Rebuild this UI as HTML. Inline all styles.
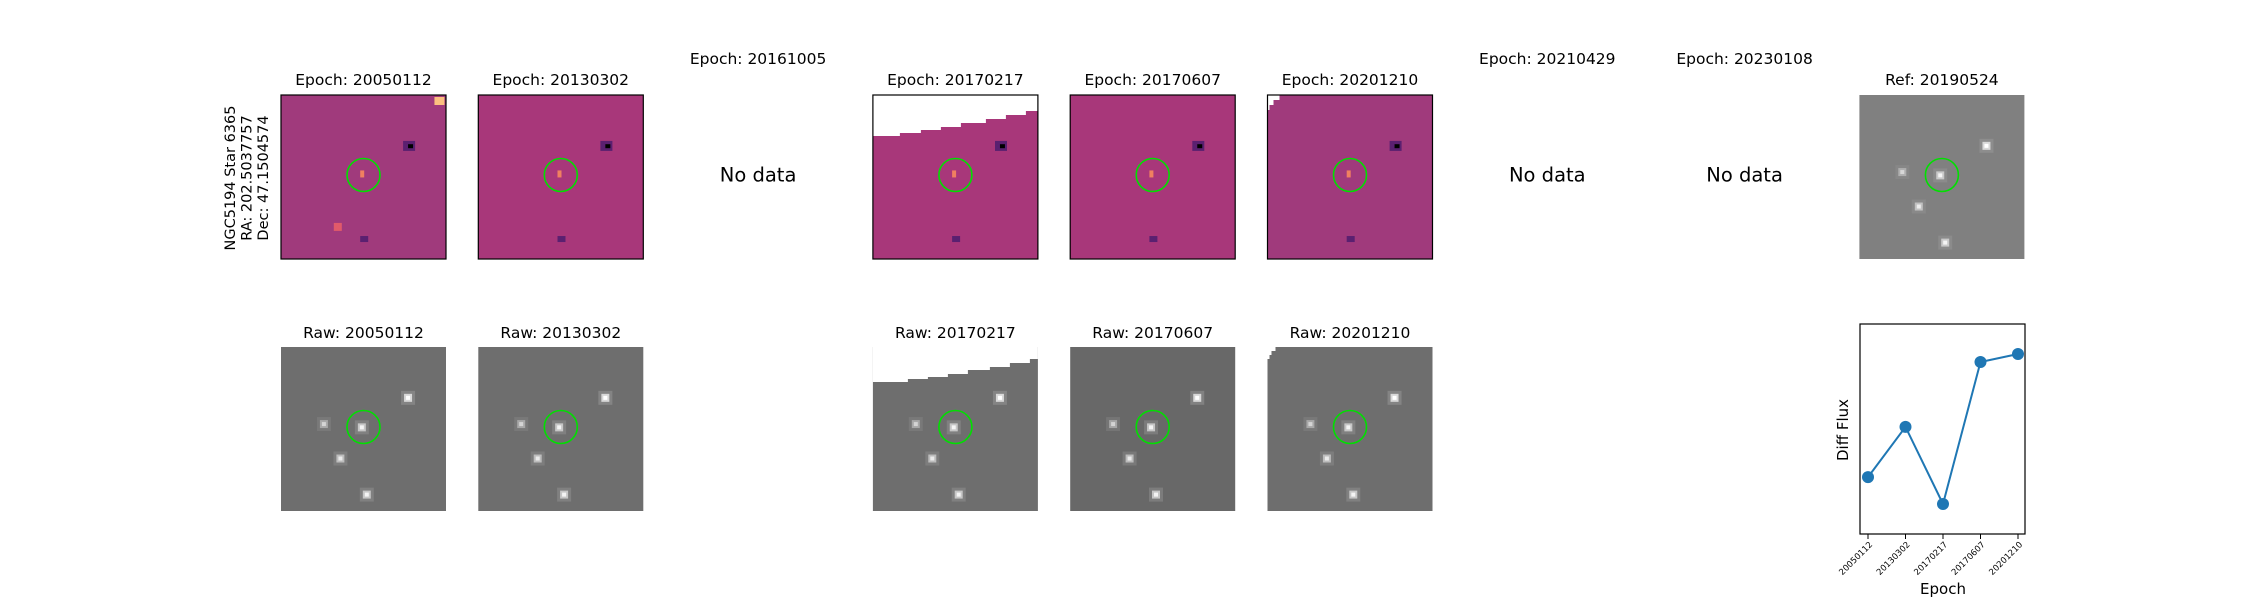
<!DOCTYPE html>
<html><head><meta charset="utf-8"><style>
html,body{margin:0;padding:0;background:#fff;}
svg{display:block;font-family:"DejaVu Sans","Liberation Sans",sans-serif;}
</style></head><body>
<svg id="fig" width="2250" height="600" viewBox="0 0 2250 600" xmlns="http://www.w3.org/2000/svg">
<text transform="translate(246,178) rotate(-90)" text-anchor="middle" font-size="14.5" fill="#000"><tspan x="0" dy="-11">NGC5194 Star 6365</tspan><tspan x="0" dy="16.5">RA: 202.5037757</tspan><tspan x="0" dy="16.5">Dec: 47.1504574</tspan></text>
</svg>
<script>
const epochs = ["20050112","20130302","20161005","20170217","20170607","20201210","20210429","20230108"];
const hasData = [true,true,false,true,true,true,false,false];
const chartEpochs = ["20050112","20130302","20170217","20170607","20201210"];
const diffFlux = [2.71,5.10,1.43,8.19,8.57];
const yDomain = [0,10];

const NS="http://www.w3.org/2000/svg";
const svg=document.getElementById('fig');
function mk(tag,attrs,parent){const e=document.createElementNS(NS,tag);for(const k in attrs)e.setAttribute(k,attrs[k]);(parent||svg).appendChild(e);return e;}
const W=165,H=164,R1=95,R2=347;
function colX(i){return 363.5+197.3*i;}
const stars=[[0.77,0.31,1],[0.49,0.49,0.8],[0.26,0.47,0.5],[0.36,0.68,0.7],[0.52,0.9,0.8]];

function diffPanel(g,x,y,i){
  const noisy=(i===0||i===5);
  mk('rect',{x:x,y:y,width:W,height:H,fill:noisy?'#a03a7c':'#a8377a'},g);
  // dipole features
  mk('rect',{x:x+W*0.74,y:y+H*0.28,width:12,height:10,fill:'#5a2070'},g);
  mk('rect',{x:x+W*0.77,y:y+H*0.3,width:5,height:4,fill:'#000'},g);
  mk('rect',{x:x+W*0.48,y:y+H*0.46,width:4,height:7,fill:'#f08060'},g);
  mk('rect',{x:x+W*0.48,y:y+H*0.86,width:8,height:6,fill:'#5a2070'},g);
  if(i===0){mk('rect',{x:x+W*0.93,y:y+2,width:10,height:8,fill:'#fcc080'},g);
    mk('rect',{x:x+W*0.32,y:y+H*0.78,width:8,height:8,fill:'#e05a6a'},g);}
  if(i===3){mk('polygon',{points:`${x},${y} ${x+W},${y} ${x+W},${y+16} ${x+W-12},${y+16} ${x+W-12},${y+20} ${x+W-32},${y+20} ${x+W-32},${y+24} ${x+W-52},${y+24} ${x+W-52},${y+28} ${x+W-77},${y+28} ${x+W-77},${y+32} ${x+W-97},${y+32} ${x+W-97},${y+35} ${x+W-117},${y+35} ${x+W-117},${y+38} ${x+W-138},${y+38} ${x+W-138},${y+41} ${x},${y+41}`,fill:'#fff'},g);}
  if(i===5){mk('polygon',{points:`${x},${y} ${x+12},${y} ${x+12},${y+5} ${x+6},${y+5} ${x+6},${y+10} ${x+2},${y+10} ${x+2},${y+15} ${x},${y+15}`,fill:'#fff'},g);}
}
function grayPanel(g,x,y,base,i){
  mk('rect',{x:x,y:y,width:W,height:H,fill:base},g);
  stars.forEach(s=>{
    const cx=x+W*s[0],cy=y+H*s[1];
    mk('rect',{x:cx-7,y:cy-7,width:14,height:14,fill:'#9a9a9a','fill-opacity':0.5*s[2]},g);
    mk('rect',{x:cx-4,y:cy-4,width:8,height:8,fill:'#d8d8d8','fill-opacity':s[2]},g);
    mk('rect',{x:cx-2,y:cy-2,width:4,height:4,fill:'#fff','fill-opacity':s[2]},g);
  });
  if(i===3){mk('polygon',{points:`${x},${y} ${x+W},${y} ${x+W},${y+12} ${x+W-8},${y+12} ${x+W-8},${y+16} ${x+W-28},${y+16} ${x+W-28},${y+20} ${x+W-48},${y+20} ${x+W-48},${y+23} ${x+W-70},${y+23} ${x+W-70},${y+27} ${x+W-90},${y+27} ${x+W-90},${y+30} ${x+W-110},${y+30} ${x+W-110},${y+32} ${x+W-130},${y+32} ${x+W-130},${y+35} ${x},${y+35}`,fill:'#fff'},g);}
  if(i===5){mk('polygon',{points:`${x},${y} ${x+8},${y} ${x+8},${y+4} ${x+4},${y+4} ${x+4},${y+8} ${x+2},${y+8} ${x+2},${y+12} ${x},${y+12}`,fill:'#fff'},g);}
}
function titled(txt,cx,cy,size,name){
  const t=mk('text',{x:cx,y:cy,'text-anchor':'middle','dominant-baseline':'central','font-size':size,fill:'#000'});
  
  
  t.textContent=txt;return t;
}
epochs.forEach((ep,i)=>{
  const cx=colX(i),x=cx-W/2;
  if(!hasData[i]){
    titled('Epoch: '+ep,cx,59,15.5,'epoch-title-'+ep);
    titled('No data',cx,175,19.5,'no-data-label-'+ep);
    return;
  }
  const g1=mk('g',{});
  
  
  diffPanel(g1,x,R1,i);
  mk('circle',{cx:cx,cy:R1+80,r:16.5,fill:'none',stroke:'#00e000','stroke-width':1.6},g1);
  mk('rect',{x:x,y:R1,width:W,height:H,fill:'none',stroke:'#000','stroke-width':1.2},g1);
  titled('Epoch: '+ep,cx,80,15.5,'diff-title-'+ep);
  const g2=mk('g',{});
  
  
  grayPanel(g2,x,R2,i===4?'#686868':'#6e6e6e',i);
  mk('circle',{cx:cx,cy:R2+80,r:16.5,fill:'none',stroke:'#00e000','stroke-width':1.6},g2);
  titled('Raw: '+ep,cx,333,15.5,'raw-title-'+ep);
});
// reference
(function(){
  const cx=colX(8),x=cx-W/2;
  const g=mk('g',{});
  
  
  grayPanel(g,x,R1,'#808080',8);
  mk('circle',{cx:cx,cy:R1+80,r:16.5,fill:'none',stroke:'#00e000','stroke-width':1.6},g);
  titled('Ref: 20190524',cx,80,15.5,'reference-title');
})();
// light curve chart
const PX0=1860,PX1=2025,PY0=324,PY1=534;
const n=chartEpochs.length;
function xScale(i){return 1868+i*(2018-1868)/(n-1);}
function yScale(v){return PY1-(v-yDomain[0])/(yDomain[1]-yDomain[0])*(PY1-PY0);}
const cg=mk('g',{});


const frame=mk('rect',{x:PX0,y:PY0,width:PX1-PX0,height:PY1-PY0,fill:'#fff',stroke:'#000','stroke-width':1.2},cg);


const line=mk('polyline',{points:diffFlux.map((v,i)=>xScale(i)+','+yScale(v)).join(' '),fill:'none',stroke:'#1f77b4','stroke-width':2},cg);


diffFlux.forEach((v,i)=>{
  const c=mk('circle',{cx:xScale(i),cy:yScale(v),r:6,fill:'#1f77b4'},cg);
  
  
});
chartEpochs.forEach((ep,i)=>{
  const x=xScale(i);
  const tk=mk('line',{x1:x,y1:PY1,x2:x,y2:PY1+5,stroke:'#000','stroke-width':1},cg);
  
  
  const t=mk('text',{transform:`translate(${x+5},${PY1+11}) rotate(-45)`,'text-anchor':'end','font-size':8.5,fill:'#000'},cg);
  
  
  t.textContent=ep;
});
const yl=mk('text',{transform:'translate(1848,430) rotate(-90)','text-anchor':'middle','font-size':15,fill:'#000'},cg);


yl.textContent='Diff Flux';
const xl=mk('text',{x:1943,y:594,'text-anchor':'middle','font-size':15,fill:'#000'},cg);


xl.textContent='Epoch';
</script>
</body></html>
